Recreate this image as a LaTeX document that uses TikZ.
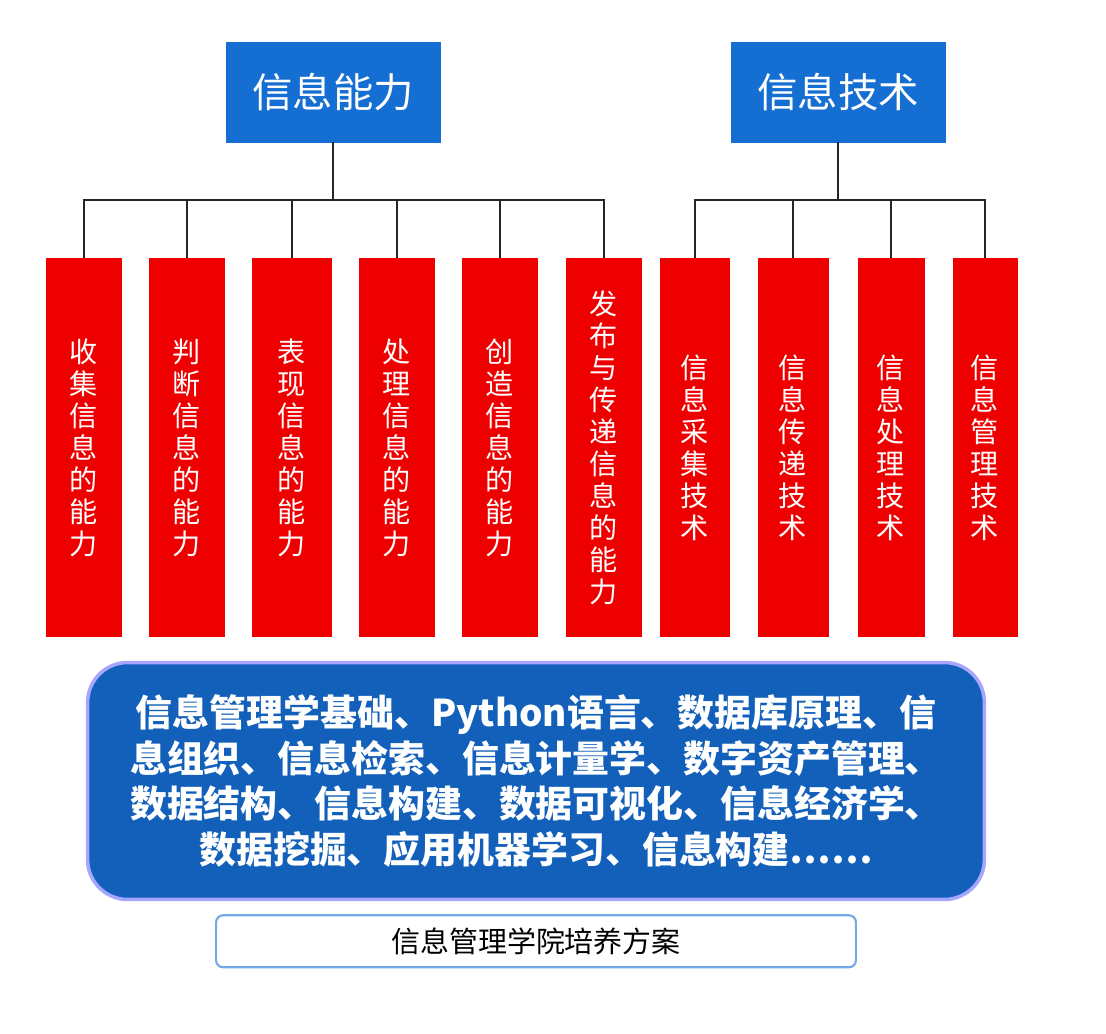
\documentclass[tikz,border=0pt]{standalone}
\usepackage{fontspec}
\setmainfont{Noto Sans CJK SC}
\usetikzlibrary{positioning}
\definecolor{topblue}{RGB}{21,110,210}
\definecolor{bigblue}{RGB}{18,96,186}
\definecolor{boxred}{RGB}{238,0,0}
\tikzset{
  capbox/.style={draw=topblue, fill=topblue, text=white, minimum width=4.28cm, minimum height=2cm, font=\fontsize{23}{27}\selectfont},
  abox/.style={fill=boxred, text=white, minimum height=7.58cm, align=center, anchor=north, inner sep=0pt, font=\fontsize{16}{18.2}\selectfont},
  tline/.style={draw=black!85, line width=1.3pt},
}
\begin{document}
\begin{tikzpicture}[x=0.02cm,y=-0.02cm]
  \useasboundingbox (0,0) rectangle (1106,1034);

  % top categories
  \node[capbox] (ability) at (333,92) {信息能力};
  \node[capbox] (tech) at (838,92) {信息技术};

  % red columns
  \node[abox, minimum width=1.52cm] (a1) at (84,258) {收\\集\\信\\息\\的\\能\\力};
  \node[abox, minimum width=1.52cm] (a2) at (187,258) {判\\断\\信\\息\\的\\能\\力};
  \node[abox, minimum width=1.6cm] (a3) at (292,258) {表\\现\\信\\息\\的\\能\\力};
  \node[abox, minimum width=1.54cm] (a4) at (397,258) {处\\理\\信\\息\\的\\能\\力};
  \node[abox, minimum width=1.54cm] (a5) at (500,258) {创\\造\\信\\息\\的\\能\\力};
  \node[abox, minimum width=1.52cm] (a6) at (604,258) {发\\布\\与\\传\\递\\信\\息\\的\\能\\力};
  \node[abox, minimum width=1.4cm] (t1) at (695,258) {信\\息\\采\\集\\技\\术};
  \node[abox, minimum width=1.42cm] (t2) at (793,258) {信\\息\\传\\递\\技\\术};
  \node[abox, minimum width=1.34cm] (t3) at (891,258) {信\\息\\处\\理\\技\\术};
  \node[abox, minimum width=1.3cm] (t4) at (985,258) {信\\息\\管\\理\\技\\术};

  % tree lines
  \coordinate (ja) at (333,200);
  \coordinate (jt) at (838,200);
  \draw[tline] (ability.south) -- (ja);
  \draw[tline] (a1.north) |- (a6.north |- ja) -- (a6.north);
  \foreach \n in {a2,a3,a4,a5}
    \draw[tline] (\n.north) -- (\n.north |- ja);
  \draw[tline] (tech.south) -- (jt);
  \draw[tline] (t1.north) |- (t4.north |- jt) -- (t4.north);
  \foreach \n in {t2,t3}
    \draw[tline] (\n.north) -- (\n.north |- jt);

  % courses
  \node[draw=blue!35, line width=2pt, fill=bigblue, rounded corners=0.8cm, minimum width=17.94cm, minimum height=4.74cm, text=white, align=center, font=\fontsize{21}{26}\selectfont\bfseries] (course) at (536,781)
    {信息管理学基础、Python语言、数据库原理、信\\息组织、信息检索、信息计量学、数字资产管理、\\数据结构、信息构建、数据可视化、信息经济学、\\数据挖掘、应用机器学习、信息构建……};

  \node[draw=topblue!60, line width=1.2pt, fill=white, rounded corners=4pt, minimum width=12.8cm, minimum height=1.04cm, font=\fontsize{16.5}{20}\selectfont, below=0.26cm of course] (plan) {信息管理学院培养方案};
\end{tikzpicture}
\end{document}
